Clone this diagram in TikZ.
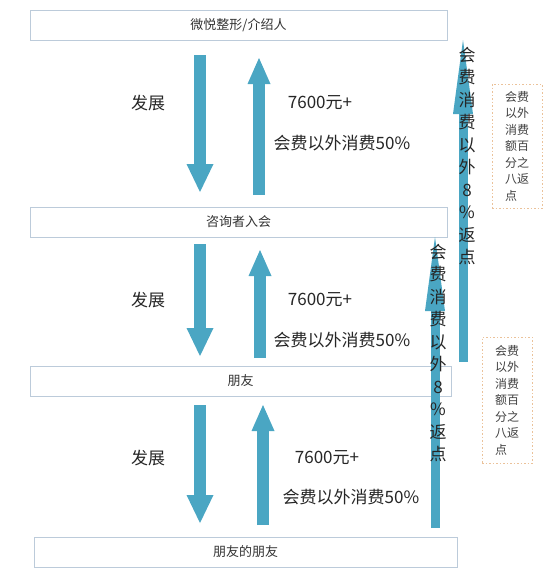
\documentclass[tikz,border=0pt]{standalone}
\usepackage{fontspec}
\newfontfamily\cjk{Noto Sans CJK SC}
\usetikzlibrary{arrows.meta}
\definecolor{arrowblue}{HTML}{4AA6C3}
\definecolor{boxline}{HTML}{BCCBDA}
\definecolor{noteline}{HTML}{EBC29A}

\begin{document}
\begin{tikzpicture}[x=1pt, y=-1pt,
  stage/.style={draw=boxline, line width=0.8pt, fill=white, inner sep=0pt,
    minimum height=30pt, text=black!80, font=\cjk\fontsize{13}{15}\selectfont},
  flowtext/.style={text=black!85, inner sep=0pt, font=\cjk\fontsize{17}{20}\selectfont},
  downarrow/.style={arrowblue, line width=12pt, -{Triangle[width=27pt, length=28pt, line width=0pt]}},
  uparrow/.style={arrowblue, line width=12pt, -{Triangle[width=23pt, length=26pt, line width=0pt]}},
  backarrow/.style={arrowblue, line width=9pt, -{Triangle[width=20pt, length=74pt, line width=0pt]}},
  vtext/.style={text=black!85, inner sep=0pt, align=center, font=\cjk\fontsize{17}{22.5}\selectfont},
  note/.style={draw=noteline, line width=0.8pt, dash pattern=on 1.5pt off 2pt, inner sep=0pt,
    minimum width=50pt, align=left, text=black!75, font=\cjk\fontsize{12}{16.5}\selectfont},
]
  \useasboundingbox (0,0) rectangle (552,581);
  % 四层关系
  \node[stage, minimum width=417pt] (jieshao)  at (238.5,25.5) {微悦整形/介绍人};
  \node[stage, minimum width=417pt] (zixun)    at (238.5,222)  {咨询者入会};
  \node[stage, minimum width=421pt] (pengyou)  at (240.5,381)  {朋友};
  \node[stage, minimum width=423pt] (pengyou2) at (245.5,552)  {朋友的朋友};

  \coordinate (d1a) at (200,55);  \coordinate (d1b) at (200,192);
  \coordinate (u1a) at (259,195); \coordinate (u1b) at (259,58);
  \coordinate (d2a) at (200,244); \coordinate (d2b) at (200,356);
  \coordinate (u2a) at (260,358); \coordinate (u2b) at (260,250);
  \coordinate (d3a) at (200,405); \coordinate (d3b) at (200,523);
  \coordinate (u3a) at (263,525); \coordinate (u3b) at (263,405);
  \draw[downarrow] (d1a) -- (d1b);
  \draw[uparrow]   (u1a) -- (u1b);
  \draw[downarrow] (d2a) -- (d2b);
  \draw[uparrow]   (u2a) -- (u2b);
  \draw[downarrow] (d3a) -- (d3b);
  \draw[uparrow]   (u3a) -- (u3b);

  \node[flowtext] (fz1) at (148,103) {发展};
  \node[flowtext] (jf1) at (320,103) {7600元+};
  \node[flowtext] (xf1) at (342,143) {会费以外消费50\%};
  \node[flowtext] (fz2) at (148,300) {发展};
  \node[flowtext] (jf2) at (320,300) {7600元+};
  \node[flowtext] (xf2) at (342,340) {会费以外消费50\%};
  \node[flowtext] (fz3) at (148,458) {发展};
  \node[flowtext] (jf3) at (327,458) {7600元+};
  \node[flowtext] (xf3) at (351,497) {会费以外消费50\%};

  % 右侧返点
  \coordinate (r1a) at (463,362); \coordinate (r1b) at (463,40);
  \coordinate (r2a) at (435,528); \coordinate (r2b) at (435,237);
  \draw[backarrow] (r1a) -- (r1b);
  \draw[backarrow] (r2a) -- (r2b);
  \node[vtext] (fd1) at (467,156) {会\\费\\消\\费\\以\\外\\8\\\%\\返\\点};
  \node[vtext] (fd2) at (438,353) {会\\费\\消\\费\\以\\外\\8\\\%\\返\\点};

  \node[note, minimum height=124pt] (bz1) at (517,146) {会费\\以外\\消费\\额百\\分之\\八返\\点};
  \node[note, minimum height=126pt] (bz2) at (507,400) {会费\\以外\\消费\\额百\\分之\\八返\\点};
\end{tikzpicture}
\end{document}
